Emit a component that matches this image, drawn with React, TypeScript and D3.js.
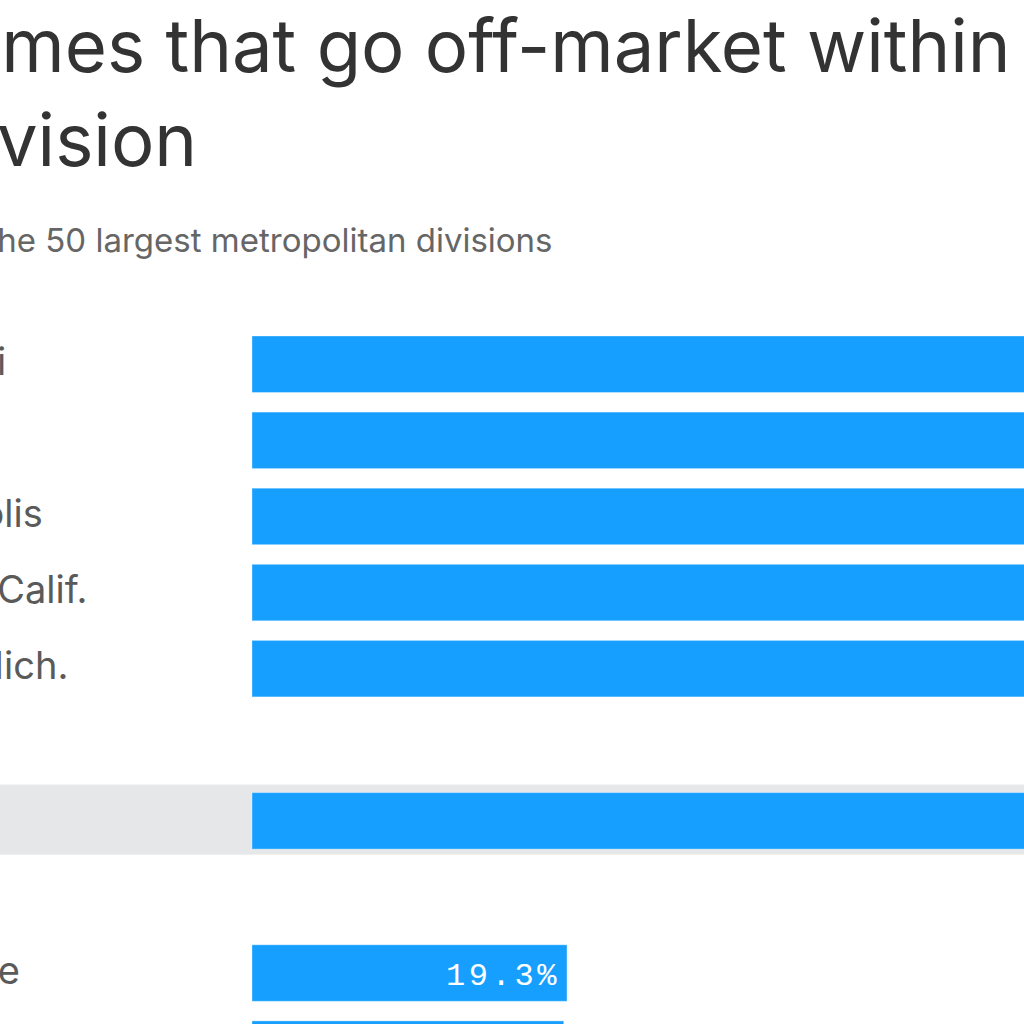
import React from 'react';
import * as d3 from 'd3';

// ---- data ----
const titleLines = ['Share of homes that go off-market within two weeks,', 'by metro division'];
const subtitle = 'Among the 50 largest metropolitan divisions';

const topCities = ['Cincinnati', 'Seattle', 'Indianapolis', 'Oakland, Calif.', 'Detroit, Mich.'];
const topValues = [63.4, 62.1, 60.8, 59.6, 58.9];

const highlightCities = ['Denver'];
const highlightValues = [56.4];

const bottomCities = ['Milwaukee', 'Miami'];
const bottomValues = [19.3, 19.1];

const BAR = '#169fff';
const BAND = '#e6e7e9';

type Row = { key: string; label: string; value: number | null; highlight: boolean };

export default function App() {
  const width = 1024;
  const height = 1024;

  const rows: Row[] = [
    ...topCities.map((c, i) => ({ key: 't' + i, label: c, value: topValues[i], highlight: false })),
    { key: 'gap1', label: '', value: null, highlight: false },
    ...highlightCities.map((c, i) => ({ key: 'h' + i, label: c, value: highlightValues[i], highlight: true })),
    { key: 'gap2', label: '', value: null, highlight: false },
    ...bottomCities.map((c, i) => ({ key: 'b' + i, label: c, value: bottomValues[i], highlight: false })),
  ];

  const step = 76.1;
  const barH = 56.5;
  const y = d3
    .scaleBand<string>()
    .domain(rows.map((r) => r.key))
    .range([336, 336 + (rows.length - 1) * step + barH])
    .paddingInner(1 - barH / step)
    .paddingOuter(0);

  const x = d3.scaleLinear().domain([0, 19.3]).range([252, 567]);
  const fmt = (v: number) => d3.format('.1f')(v) + '%';

  const labelX = -172;
  const titleX = [-394, -388];

  return (
    <svg
      width={width}
      height={height}
      style={{ position: 'absolute', left: 0, top: 0, background: '#fff' }}
    >
      <rect x={0} y={0} width={width} height={height} fill="#fff" />
      {/* title */}
      <g fontFamily="Inter, 'Noto Sans', sans-serif" fill="#333333">
        {titleLines.map((t, i) => (
          <text key={i} x={titleX[i]} y={72 + i * 94} fontSize={72.4}>
            {t}
          </text>
        ))}
      </g>
      <text x={-134} y={252} fontSize={33} fill="#666666" fontFamily="Inter, 'Noto Sans', sans-serif">
        {subtitle}
      </text>

      {/* highlight band */}
      {rows
        .filter((r) => r.highlight)
        .map((r) => (
          <rect
            key={'band' + r.key}
            x={-10}
            y={(y(r.key) as number) - 8}
            width={width + 20}
            height={y.bandwidth() + 13.5}
            fill={BAND}
          />
        ))}

      {/* bars */}
      {rows
        .filter((r) => r.value !== null)
        .map((r) => {
          const yy = y(r.key) as number;
          const v = r.value as number;
          return (
            <g key={r.key}>
              <rect
                x={x(0)}
                y={yy}
                width={x(v) - x(0)}
                height={y.bandwidth()}
                fill={BAR}
                stroke="#ffffff"
                strokeOpacity={0.35}
                strokeWidth={1}
              />
              <text
                x={x(v) - 7}
                y={yy + y.bandwidth() / 2 + 11.5}
                textAnchor="end"
                fontFamily="'Liberation Mono', 'DejaVu Sans Mono', monospace"
                fontSize={32}
                letterSpacing={3.6}
                fill="#ffffff"
              >
                {fmt(v)}
              </text>
              <text
                x={labelX}
                y={yy + y.bandwidth() / 2 + 10.5}
                fontFamily="Inter, 'Noto Sans', sans-serif"
                fontSize={38}
                fill="#5a5a5a"
              >
                {r.label}
              </text>
            </g>
          );
        })}
    </svg>
  );
}
